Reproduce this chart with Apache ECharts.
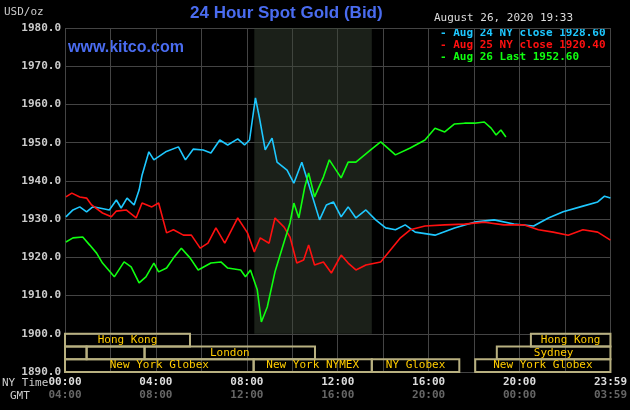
<!DOCTYPE html>
<html>
<head>
<meta charset="utf-8">
<script src="https://cdn.jsdelivr.net/npm/echarts@6/dist/echarts.min.js"></script>
<style>html,body{margin:0;padding:0;background:#000;}#chart{width:630px;height:410px;}</style>
</head>
<body>
<div id="chart"></div>
<script>
// [hour NY time, price]
const aug24 = [[0.04,1930.6],[0.35,1932.4],[0.65,1933.2],[0.95,1931.9],[1.22,1933.2],[1.52,1932.9],[1.95,1932.4],[2.26,1935.0],[2.47,1932.9],[2.73,1935.5],[3.04,1933.7],[3.26,1937.6],[3.39,1941.5],[3.69,1947.6],[3.91,1945.5],[4.43,1947.6],[4.99,1948.9],[5.30,1945.5],[5.64,1948.3],[6.08,1948.1],[6.42,1947.3],[6.81,1950.7],[7.16,1949.4],[7.60,1951.0],[7.90,1949.4],[8.12,1950.7],[8.38,1961.7],[8.55,1956.7],[8.81,1948.1],[9.11,1951.2],[9.33,1944.9],[9.77,1942.8],[10.07,1939.4],[10.42,1944.9],[10.76,1938.4],[11.20,1929.8],[11.50,1933.7],[11.81,1934.5],[12.15,1930.6],[12.46,1933.2],[12.80,1930.3],[13.24,1932.4],[13.67,1929.8],[14.11,1927.7],[14.54,1927.2],[14.97,1928.5],[15.41,1926.6],[16.28,1925.8],[17.14,1927.7],[18.01,1929.2],[18.88,1929.8],[19.75,1928.7],[20.62,1928.2],[21.27,1930.3],[21.92,1931.9],[22.79,1933.4],[23.44,1934.5],[23.74,1936.0],[24.0,1935.5]];
const aug25 = [[0.04,1935.8],[0.30,1936.8],[0.65,1935.8],[0.95,1935.5],[1.17,1933.7],[1.65,1931.6],[2.04,1930.6],[2.26,1932.1],[2.69,1932.4],[3.13,1930.3],[3.39,1934.2],[3.82,1933.2],[4.12,1934.2],[4.47,1926.4],[4.77,1927.2],[5.21,1925.8],[5.56,1925.8],[5.95,1922.4],[6.29,1923.7],[6.64,1927.7],[7.03,1923.7],[7.60,1930.3],[8.03,1926.4],[8.33,1921.4],[8.59,1925.1],[8.98,1923.7],[9.24,1930.3],[9.64,1927.9],[9.90,1925.3],[10.20,1918.5],[10.50,1919.3],[10.72,1923.2],[10.98,1918.0],[11.37,1918.8],[11.72,1915.9],[12.15,1920.6],[12.46,1918.5],[12.80,1916.7],[13.24,1918.0],[13.89,1918.8],[14.32,1921.9],[14.76,1925.1],[15.19,1927.2],[15.84,1928.2],[16.71,1928.5],[17.58,1928.7],[18.45,1929.2],[19.31,1928.5],[20.18,1928.5],[20.83,1927.2],[21.48,1926.6],[22.14,1925.8],[22.79,1927.2],[23.44,1926.6],[24.0,1924.5]];
const aug26 = [[0.04,1924.0],[0.35,1925.1],[0.78,1925.3],[1.09,1923.2],[1.39,1921.1],[1.65,1918.5],[2.17,1914.9],[2.60,1918.8],[2.91,1917.5],[3.26,1913.3],[3.56,1914.9],[3.91,1918.5],[4.12,1916.2],[4.47,1917.2],[4.77,1919.8],[5.12,1922.4],[5.51,1919.8],[5.86,1916.7],[6.42,1918.5],[6.86,1918.8],[7.16,1917.2],[7.73,1916.7],[7.94,1914.9],[8.16,1916.7],[8.46,1911.5],[8.64,1903.1],[8.90,1907.0],[9.24,1916.2],[9.64,1924.0],[9.90,1929.0],[10.07,1934.2],[10.29,1930.3],[10.55,1938.4],[10.72,1942.1],[10.98,1935.8],[11.37,1941.0],[11.63,1945.5],[12.15,1940.8],[12.46,1944.9],[12.80,1944.9],[13.45,1948.1],[13.89,1950.2],[14.54,1946.8],[15.19,1948.6],[15.84,1950.7],[16.28,1953.8],[16.71,1952.8],[17.14,1954.9],[17.58,1955.1],[18.01,1955.1],[18.45,1955.4],[18.75,1953.8],[18.97,1952.0],[19.18,1953.3],[19.40,1951.5]];
const legendLines = ['- Aug 24 NY close 1928.60','- Aug 25 NY close 1920.40','- Aug 26 Last 1952.60'];
const lineColors = ['#1ec8ff','#ff1010','#10ff10'];
const nyLabels = {0:'00:00',4:'04:00',8:'08:00',12:'12:00',16:'16:00',20:'20:00',24:'23:59'};
const gmtLabels = {0:'04:00',4:'08:00',8:'12:00',12:'16:00',16:'20:00',20:'00:00',24:'03:59'};
// [start hour, end hour, row, label]
const sessions = [[0,5.5,0,'Hong Kong'],[20.5,24,0,'Hong Kong'],[0,0.95,1,''],[0.95,3.5,1,''],[3.5,11,1,'London'],[19,24,1,'Sydney'],[0,8.3,2,'New York Globex'],[8.3,13.5,2,'New York NYMEX'],[13.5,17.35,2,'NY Globex'],[18.05,24,2,'New York Globex']];
const nymexZone = [8.33, 13.5];

const mono = 'DejaVu Sans Mono';
const chart = echarts.init(document.getElementById('chart'));
const rowH = 10/3;
chart.setOption({
  backgroundColor: '#000',
  animation: false,
  grid: {left: 65, right: 12, top: 28, bottom: 38},
  xAxis: {type: 'value', min: 0, max: 24, interval: 2,
    axisLine: {show: false}, axisTick: {show: false},
    splitLine: {lineStyle: {color: '#444', width: 1}},
    axisLabel: {margin: 4, showMaxLabel: true, formatter: v => nyLabels[v] === undefined ? '' : '{a|' + nyLabels[v] + '}\n{b|' + gmtLabels[v] + '}',
      rich: {a: {color: '#ddd', fontFamily: mono, fontSize: 11, fontWeight: 'bold', lineHeight: 13},
             b: {color: '#666', fontFamily: mono, fontSize: 11, fontWeight: 'bold', lineHeight: 13}}}},
  yAxis: {type: 'value', min: 1890, max: 1980, interval: 10,
    axisLine: {show: false}, axisTick: {show: false},
    splitLine: {lineStyle: {color: '#444', width: 1}},
    axisLabel: {color: '#ccc', fontFamily: mono, fontSize: 11, fontWeight: 'bold', margin: 4, formatter: v => v.toFixed(1)}},
  graphic: [
    {type: 'text', left: 4, top: 7, style: {text: 'USD/oz', fill: '#ccc', font: '11px ' + mono}},
    {type: 'text', left: 190, top: 5, style: {text: '24 Hour Spot Gold (Bid)', fill: '#4a6cf0', font: 'bold 17px "Liberation Sans"'}},
    {type: 'text', left: 434, top: 13, style: {text: 'August 26, 2020 19:33', fill: '#ddd', font: '11px ' + mono}},
    {type: 'text', left: 68, top: 40, style: {text: 'www.kitco.com', fill: '#4a6cf0', font: 'bold 16px "Liberation Sans"'}},
    {type: 'text', left: 2, top: 378, style: {text: 'NY Time', fill: '#ccc', font: '11px ' + mono}},
    {type: 'text', left: 10, top: 391, style: {text: 'GMT', fill: '#ccc', font: '11px ' + mono}}
  ].concat(legendLines.map((t, i) => ({type: 'text', left: 440, top: 28 + i * 12,
    style: {text: t, fill: lineColors[i], font: 'bold 11px ' + mono}}))),
  series: [
    {type: 'custom', silent: true, z: 1, data: sessions,
      renderItem: (params, api) => {
        const s = api.value(0), e = api.value(1), r = api.value(2);
        const p1 = api.coord([s, 1900 - r * rowH]);
        const p2 = api.coord([e, 1900 - (r + 1) * rowH]);
        return {type: 'rect', shape: {x: p1[0], y: p1[1], width: p2[0] - p1[0], height: p2[1] - p1[1]},
          style: {fill: 'rgba(0,0,0,0)', stroke: '#b8b080', lineWidth: 2},
          textContent: {style: {text: sessions[params.dataIndex][3], fill: '#ffcc00', font: '11px ' + mono}},
          textConfig: {position: 'inside'}};
      }},
    {type: 'line', data: aug24, showSymbol: false, lineStyle: {color: lineColors[0], width: 1.6}, z: 3,
      markArea: {silent: true, itemStyle: {color: 'rgba(60,70,55,0.45)'}, data: [[{xAxis: nymexZone[0], yAxis: 1900}, {xAxis: nymexZone[1], yAxis: 1980}]]}},
    {type: 'line', data: aug25, showSymbol: false, lineStyle: {color: lineColors[1], width: 1.6}, z: 3},
    {type: 'line', data: aug26, showSymbol: false, lineStyle: {color: lineColors[2], width: 1.6}, z: 4}
  ]
});
</script>
</body>
</html>
